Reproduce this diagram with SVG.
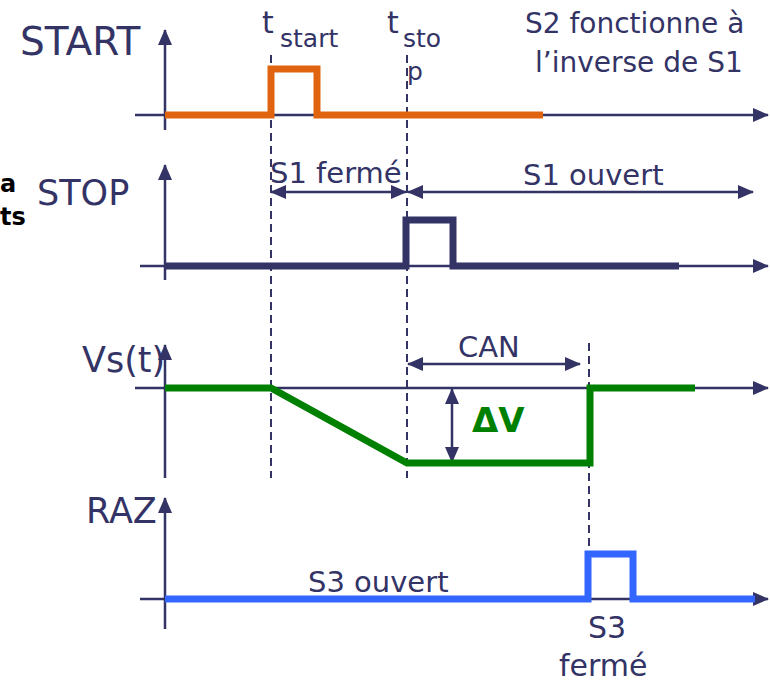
<svg xmlns="http://www.w3.org/2000/svg" width="770" height="682" viewBox="0 0 770 682">
<style>
text{font-family:"DejaVu Sans","Liberation Sans",sans-serif;fill:#333366}
.axis{stroke:#333366;stroke-width:2.5;fill:none}
.dash{stroke:#333366;stroke-width:2;stroke-dasharray:8 5;fill:none}
.dim{stroke:#333366;stroke-width:2.5;fill:none;marker-start:url(#ah);marker-end:url(#ah)}
.sig{fill:none;stroke-width:7;stroke-linejoin:miter}
</style>
<defs>
<marker id="ah" markerUnits="userSpaceOnUse" markerWidth="16" markerHeight="14" refX="15" refY="7" orient="auto-start-reverse" viewBox="0 0 16 14">
<path d="M0,0 L16,7 L0,14 Z" fill="#333366"/>
</marker>
</defs>
<g id="connectors">
<line class="dash" x1="271" y1="55" x2="271" y2="478"/>
<line class="dash" x1="407" y1="55" x2="407" y2="478"/>
<line class="dash" x1="589" y1="343" x2="589" y2="575"/>
<line class="dim" x1="271" y1="192" x2="406" y2="192"/>
<line class="dim" x1="408" y1="192" x2="753" y2="192"/>
<line class="dim" x1="408" y1="364" x2="580" y2="364"/>
<line class="dim" x1="452" y1="389" x2="452" y2="462"/>
</g>
<g id="start-chart">
<line class="axis" x1="165" y1="130" x2="165" y2="30" marker-end="url(#ah)"/>
<line class="axis" x1="135" y1="115" x2="768" y2="115" marker-end="url(#ah)"/>
<path class="sig" stroke="#E06410" d="M165,115 H271 V69 H317 V115 H543"/>
<text x="20" y="55" font-size="39">START</text>
<text x="262" y="33" font-size="30">t</text>
<text x="280" y="47" font-size="25">start</text>
<text x="387" y="33" font-size="30">t</text>
<text x="403" y="47" font-size="25">sto</text>
<text x="407" y="80" font-size="25">p</text>
<text x="525" y="33" font-size="28">S2 fonctionne à</text>
<text x="535" y="72" font-size="28">l’inverse de S1</text>
</g>
<g id="stop-chart">
<line class="axis" x1="165" y1="280" x2="165" y2="165" marker-end="url(#ah)"/>
<line class="axis" x1="140" y1="266" x2="768" y2="266" marker-end="url(#ah)"/>
<path class="sig" stroke="#333366" d="M165,266 H406 V220 H453 V266 H679"/>
<text x="37" y="205" font-size="35">STOP</text>
<text x="270" y="183" font-size="29">S1 fermé</text>
<text x="523" y="185" font-size="29">S1 ouvert</text>
<text x="0" y="192" font-size="24" font-weight="bold" style="fill:#000">a</text>
<text x="0" y="225" font-size="24" font-weight="bold" style="fill:#000">ts</text>
</g>
<g id="vs-chart">
<line class="axis" x1="165" y1="478" x2="165" y2="345" marker-end="url(#ah)"/>
<line class="axis" x1="135" y1="388" x2="768" y2="388" stroke-width="2" marker-end="url(#ah)"/>
<path class="sig" stroke="#008000" d="M165,388 H271 L407,463 H590 V388 H695"/>
<text x="82" y="372" font-size="35">Vs(t)</text>
<text x="458" y="357" font-size="29">CAN</text>
<text x="472" y="432" font-size="34" font-weight="bold" style="fill:#008000">ΔV</text>
</g>
<g id="raz-chart">
<line class="axis" x1="165" y1="629" x2="165" y2="498" marker-end="url(#ah)"/>
<line class="axis" x1="140" y1="599" x2="768" y2="599" marker-end="url(#ah)"/>
<path class="sig" stroke="#3366FF" d="M165,599 H588 V554 H633 V599 H755"/>
<text x="86" y="523" font-size="35">RAZ</text>
<text x="308" y="592" font-size="29">S3 ouvert</text>
<text x="588" y="638" font-size="30">S3</text>
<text x="559" y="676" font-size="30">fermé</text>
</g>
</svg>
